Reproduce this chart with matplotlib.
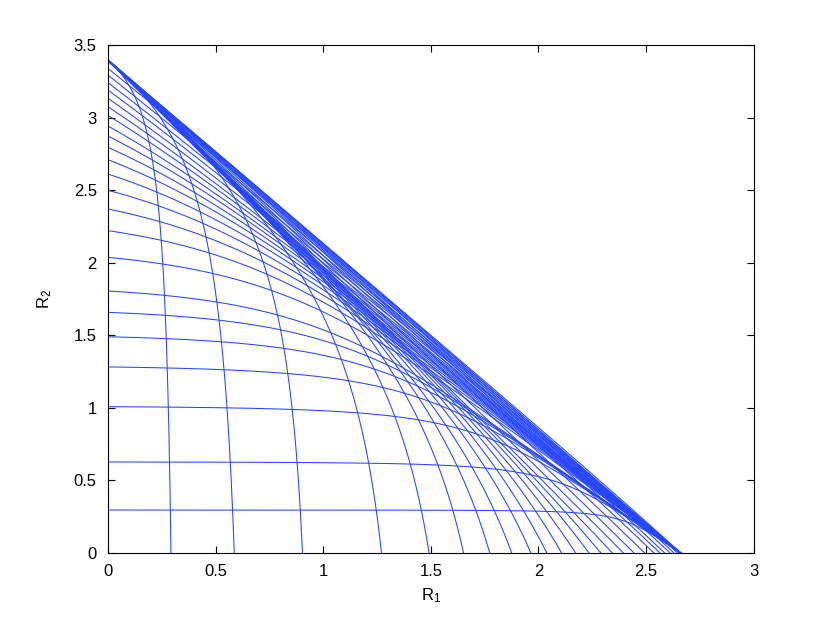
import numpy as np
import matplotlib
matplotlib.use("Agg")
import matplotlib.pyplot as plt

plt.rcParams["font.family"] = ["Liberation Sans", "DejaVu Sans"]
plt.rcParams["mathtext.default"] = "regular"

# end points of the outer time-sharing line
r1_max = 2.661
r2_max = 3.397

# R2 where each horizontal curve leaves the R2 axis
r2_levels = [0.296, 0.627, 1.008, 1.282, 1.490, 1.658, 1.805, 2.037, 2.221, 2.370,
             2.499, 2.611, 2.710, 2.795, 2.873, 2.942, 3.015, 3.075, 3.133, 3.190,
             3.241, 3.293, 3.339, 3.385]
# R1 where each vertical curve leaves the R1 axis
r1_levels = [0.293, 0.587, 0.904, 1.271, 1.492, 1.652, 1.774, 1.876, 1.965, 2.039,
             2.108, 2.173, 2.235, 2.290, 2.344, 2.395, 2.444, 2.494, 2.537, 2.565,
             2.587, 2.612, 2.630, 2.646, 2.661]

x_ticks = [0, 0.5, 1, 1.5, 2, 2.5, 3]
y_ticks = [0, 0.5, 1, 1.5, 2, 2.5, 3, 3.5]

line_col = "#2545ff"


def bend(level, s, p, k):
    # soft minimum of the flat level and a ray k*s through the far corner
    s = np.clip(s, 1e-9, 1.0)
    return (level ** -p + (k * s) ** -p - k ** -p) ** (-1.0 / p)


def shape_h(level):
    p = np.interp(level, [0.08, 0.3, 0.53, 0.75, 0.9, 1.0], [3.0, 4.0, 5.0, 5.0, 5.0, 5.0])
    k = np.interp(level, [0.08, 0.3, 0.53, 0.6, 0.82, 0.9, 1.0],
                  [0.78, 0.78, 0.80, 0.84, 0.90, 0.93, 1.0])
    return p, max(k, level + 0.01)


def shape_v(level):
    p = np.interp(level, [0.1, 0.22, 0.34, 0.48, 0.7, 1.0], [1.0, 1.3, 2.0, 2.6, 4.0, 6.0])
    k = np.interp(level, [0.1, 0.34, 0.48, 0.7, 0.9, 1.0], [1.0, 1.0, 0.90, 0.86, 0.90, 1.0])
    return p, max(k, level + 0.01)


fig = plt.figure(figsize=(8.3, 6.23), dpi=100)
ax = fig.add_axes([0.13, 0.1124, 0.778, 0.8154])

f = np.linspace(0, 1, 1200)

for h in r2_levels:
    w0 = h / r2_max
    p, k = shape_h(w0)
    y = r2_max * bend(w0, 1 - f, p, k)
    ax.plot(f * r1_max, y, color=line_col, lw=0.75)

for v in r1_levels:
    u0 = v / r1_max
    p, k = shape_v(u0)
    x = r1_max * bend(u0, 1 - f, p, k)
    ax.plot(x, f * r2_max, color=line_col, lw=0.75)

ax.set_xlim(0, 3)
ax.set_ylim(0, 3.5)
ax.set_xticks(x_ticks)
ax.set_yticks(y_ticks)
ax.set_xticklabels(["0", "0.5", "1", "1.5", "2", "2.5", "3"])
ax.set_yticklabels(["0", "0.5", "1", "1.5", "2", "2.5", "3", "3.5"])
ax.tick_params(direction="in", top=True, right=True, labelsize=12, length=5, pad=8)
ax.set_xlabel("R$_1$", fontsize=12, labelpad=5)
ax.set_ylabel("R$_2$", fontsize=12, labelpad=14)
for sp in ax.spines.values():
    sp.set_linewidth(0.8)

fig.savefig("out.png", dpi=100)
